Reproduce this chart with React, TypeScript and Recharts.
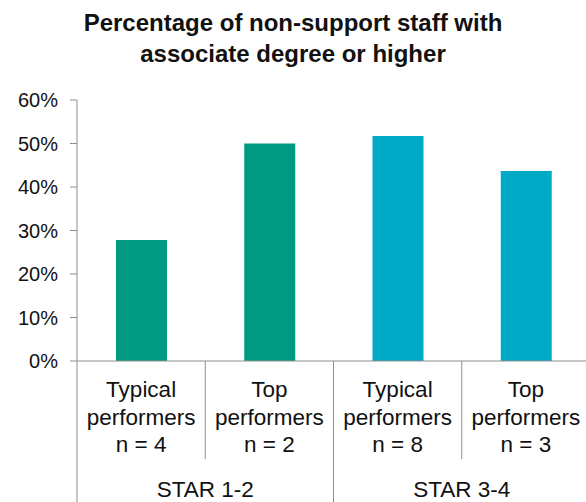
import { BarChart, Bar, XAxis, YAxis, Cell } from "recharts";

const roles = ["Typical", "Top", "Typical", "Top"];
const sampleSizes = [4, 2, 8, 3];
const groups = ["STAR 1-2", "STAR 1-2", "STAR 3-4", "STAR 3-4"];
const values = [27.8, 50, 51.7, 43.7];
const yTicks = [0, 10, 20, 30, 40, 50, 60];

const groupColors: Record<string, string> = {
  "STAR 1-2": "#009A83",
  "STAR 3-4": "#00AAC7",
};

const data = values.map((v, i) => ({
  key: `${groups[i]}|${roles[i]}`,
  value: v,
}));

const FONT = "'Liberation Sans', Arial, sans-serif";
const AXIS = "#8f8f8f";

const CategoryTick = ({ x, y, payload, index }: any) => {
  const half = payload.offset ?? 64;
  const i = index ?? payload.index;
  const left = x - half;
  const groupStart = i === 0 || groups[i] !== groups[i - 1];
  const isLast = i === groups.length - 1;
  const txt = { fontFamily: FONT, fontSize: 22.5, fill: "#111", textAnchor: "middle" as const };
  return (
    <g>
      <line x1={left} x2={left} y1={y} y2={groupStart ? y + 150 : y + 98} stroke={AXIS} strokeWidth={1} />
      {isLast && <line x1={x + half} x2={x + half} y1={y} y2={y + 150} stroke={AXIS} strokeWidth={1} />}
      <text x={x} y={y + 36} {...txt}>{roles[i]}</text>
      <text x={x} y={y + 64} {...txt}>performers</text>
      <text x={x} y={y + 91} {...txt}>{`n = ${sampleSizes[i]}`}</text>
      {groupStart && (
        <text x={x + half} y={y + 136} {...txt}>{groups[i]}</text>
      )}
    </g>
  );
};

export default function App() {
  return (
    <div
      style={{
        position: "absolute",
        left: 0,
        top: 0,
        width: 586,
        height: 502,
        overflow: "hidden",
        background: "#fff",
        fontFamily: FONT,
      }}
    >
      <div
        style={{
          position: "absolute",
          left: 0,
          top: 7,
          width: 586,
          textAlign: "center",
          fontWeight: "bold",
          fontSize: 24,
          lineHeight: "31px",
          color: "#111",
        }}
      >
        Percentage of non-support staff with
        <br />
        associate degree or higher
      </div>
      <div style={{ position: "absolute", left: 0, top: 0 }}>
        <BarChart
          width={591}
          height={502}
          data={data}
          margin={{ top: 100, right: 1, left: 0, bottom: 0 }}
        >
          <XAxis
            dataKey="key"
            height={141}
            axisLine={{ stroke: AXIS }}
            tickLine={false}
            tickSize={0}
            tickMargin={0}
            interval={0}
            tick={<CategoryTick />}
          />
          <YAxis
            width={77}
            domain={[0, 60]}
            ticks={yTicks}
            interval={0}
            axisLine={{ stroke: AXIS }}
            tickLine={{ stroke: AXIS }}
            tickSize={7}
            tickMargin={12}
            tickFormatter={(v) => `${v}%`}
            tick={{ fontFamily: FONT, fontSize: 20, fill: "#111" }}
          />
          <Bar dataKey="value" barSize={51} isAnimationActive={false}>
            {data.map((d, i) => (
              <Cell key={d.key} fill={groupColors[groups[i]]} />
            ))}
          </Bar>
        </BarChart>
      </div>
    </div>
  );
}
